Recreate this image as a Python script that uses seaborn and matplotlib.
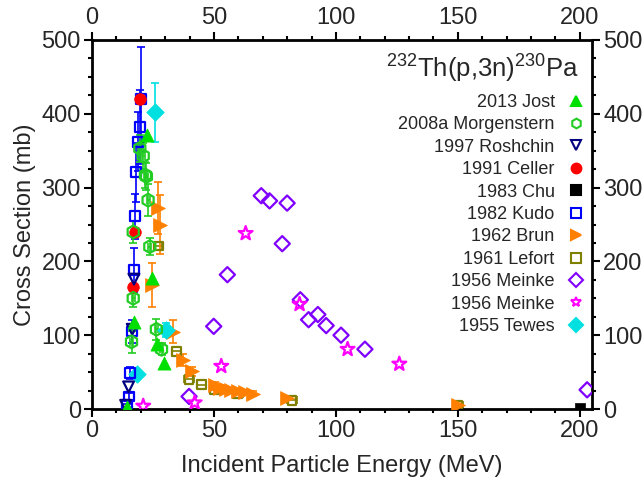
import matplotlib
matplotlib.use("Agg")
import matplotlib.pyplot as plt
from matplotlib.lines import Line2D
from matplotlib.ticker import MultipleLocator
import seaborn as sns
import pandas as pd

# ---- data ----
jost_x = [14.5, 17.3, 22.4, 24.4, 26.5, 29.6]
jost_y = [3, 118, 371, 177, 88, 62]

morg_x = [16.2, 16.9, 16.9, 19.6, 21.0, 21.9, 22.3, 23.0, 23.7, 26.4, 28.5]
morg_y = [91, 150, 240, 353, 343, 317, 315, 283, 220, 108, 81]
morg_yerr = [15, 12, 15, 18, 18, 18, 18, 22, 12, 14, 8]
morg_xerr = [0.6, 0.6, 0.6, 0.6, 0.6, 0.6, 0.6, 0.6, 0.6, 0.6, 0.6]

rosh_x = [13.8, 15.0, 16.5, 17.2]
rosh_y = [5, 30, 108, 176]

cell_x = [17.0, 17.8, 19.5]
cell_y = [165, 240, 420]

chu_x = [200]
chu_y = [2]

kudo_x = [14.5, 15.3, 15.5, 16.5, 17.3, 17.6, 17.9, 18.9, 19.6, 20.0]
kudo_y = [5, 17, 49, 105, 188, 261, 321, 362, 382, 420]
kudo_yerr = [2, 5, 8, 15, 30, 30, 40, 40, 50, 70]

brun_x = [24.4, 27.0, 27.8, 33.3, 37.3, 40.8, 50.3, 52.4, 55.1, 57.1, 59.8, 62.6, 66.0, 80.0, 150.0]
brun_y = [168, 272, 250, 105, 66, 51, 32, 29, 27, 26, 24, 23, 21, 15, 6]
brun_yerr = [30, 35, 40, 15, 8, 6, 4, 3, 3, 3, 3, 3, 3, 2, 1]

lef_x = [27.4, 34.6, 39.8, 44.9, 50.3, 59.8, 82.0, 150.0]
lef_y = [221, 78, 40, 33, 26, 21, 12, 5]
lef_xerr = [1.5, 2, 2, 2, 2, 2, 2, 2]

mein1_x = [39.8, 49.9, 55.5, 69.4, 72.8, 78.0, 80.0, 85.4, 88.8, 92.6, 96.0, 102.1, 111.9, 203.0]
mein1_y = [17, 112, 182, 289, 282, 224, 279, 148, 121, 128, 113, 100, 81, 26]

mein2_x = [21.0, 42.1, 53.0, 63.0, 85.1, 104.8, 126.0]
mein2_y = [4, 8.5, 58, 238, 142, 81, 61]

tewes_x = [18.5, 25.8, 30.5]
tewes_y = [48, 402, 107]
tewes_yerr = [5, 40, 10]

labels = ["2013 Jost", "2008a Morgenstern", "1997 Roshchin", "1991 Celler", "1983 Chu",
          "1982 Kudo", "1962 Brun", "1961 Lefort", "1956 Meinke", "1956 Meinke", "1955 Tewes"]

# ---- style ----
sns.set_theme(style="ticks")
plt.rcParams['font.family'] = ['Liberation Sans', 'DejaVu Sans']
plt.rcParams['mathtext.fontset'] = 'custom'
plt.rcParams['mathtext.rm'] = 'Liberation Sans'

fig = plt.figure(figsize=(6.44, 4.79), dpi=100)
ax = fig.add_axes([92/644, 70/479, 500/644, 369/479])

series = [
    # x, y, marker, size, color, filled, xerr, yerr
    (lef_x, lef_y, 's', 40, '#808000', False, lef_xerr, None),
    (brun_x, brun_y, '>', 100, '#ff8000', True, None, brun_yerr),
    (mein1_x, mein1_y, 'D', 60, '#8000ff', False, None, None),
    (mein2_x, mein2_y, '*', 110, '#ff00ff', False, None, None),
    (tewes_x, tewes_y, 'D', 80, '#00e0e0', True, None, tewes_yerr),
    (kudo_x, kudo_y, 's', 50, '#0000ff', False, None, kudo_yerr),
    (cell_x, cell_y, 'o', 70, '#ff0000', True, None, None),
    (rosh_x, rosh_y, 'v', 60, '#000080', False, None, None),
    (morg_x, morg_y, 'h', 85, '#22cc22', False, morg_xerr, morg_yerr),
    (jost_x, jost_y, '^', 90, '#00e000', True, None, None),
    (chu_x, chu_y, 's', 50, '#000000', True, None, None),
]

for x, y, m, s, c, filled, xe, ye in series:
    if xe is not None or ye is not None:
        ax.errorbar(x, y, xerr=xe, yerr=ye, fmt='none', ecolor=c, elinewidth=1.2,
                    capsize=3, capthick=1.2, zorder=2)
    df = pd.DataFrame({"x": x, "y": y})
    if filled:
        sns.scatterplot(data=df, x="x", y="y", marker=m, s=s, color=c,
                        edgecolor=c, linewidth=0.5, ax=ax, zorder=3, legend=False)
    else:
        sns.scatterplot(data=df, x="x", y="y", marker=m, s=s, facecolors='none',
                        edgecolors=c, linewidth=1.6, ax=ax, zorder=3, legend=False)

ax.set_xlim(0, 205)
ax.set_ylim(0, 500)
ax.xaxis.set_major_locator(MultipleLocator(50))
ax.xaxis.set_minor_locator(MultipleLocator(10))
ax.yaxis.set_major_locator(MultipleLocator(100))
ax.yaxis.set_minor_locator(MultipleLocator(25))
ax.tick_params(which='both', direction='out', top=True, right=True,
               labeltop=True, labelright=True, labelsize=17, width=1.5, color='black')
ax.tick_params(which='major', length=6, pad=2)
ax.tick_params(which='minor', length=3)
for sp in ax.spines.values():
    sp.set_linewidth(2)
    sp.set_color('black')
ax.set_xlabel("Incident Particle Energy (MeV)", fontsize=17, labelpad=9)
ax.set_ylabel("Cross Section (mb)", fontsize=17, labelpad=4)

ax.text(0.975, 0.925, r"$^{232}$Th(p,3n)$^{230}$Pa", transform=ax.transAxes,
        ha='right', va='center', fontsize=18.5)

# legend
leg_specs = [
    ('^', '#00e000', True), ('h', '#22cc22', False), ('v', '#000080', False),
    ('o', '#ff0000', True), ('s', '#000000', True), ('s', '#0000ff', False),
    ('>', '#ff8000', True), ('s', '#808000', False), ('D', '#8000ff', False),
    ('*', '#ff00ff', False), ('D', '#00e0e0', True),
]
handles = []
for m, c, filled in leg_specs:
    handles.append(Line2D([], [], linestyle='none', marker=m, markersize=7,
                          markerfacecolor=c if filled else 'none', markeredgecolor=c,
                          markeredgewidth=1.5))
ax.legend(handles, labels, loc='upper right', bbox_to_anchor=(1.012, 0.888),
          markerfirst=False, frameon=False, fontsize=13, handlelength=1.0,
          handletextpad=0.7, labelspacing=0.3, borderpad=0.2)

fig.savefig("out.png", dpi=100)
